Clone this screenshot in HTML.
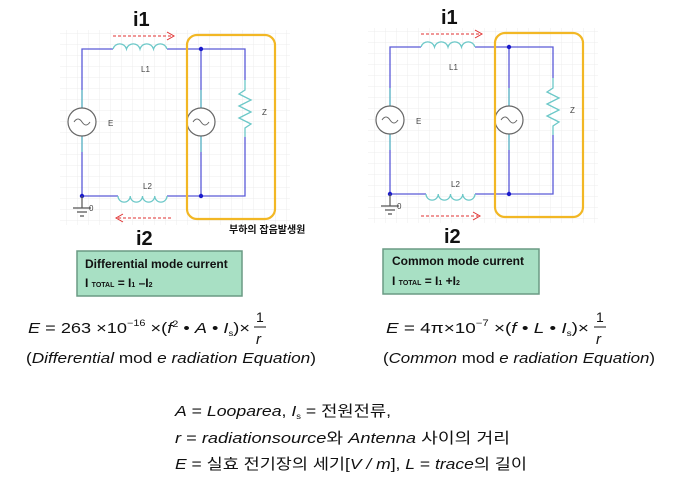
<!DOCTYPE html>
<html><head><meta charset="utf-8"><style>
html,body{margin:0;padding:0;background:#fff;}
svg{display:block;}
text{font-family:"Liberation Sans","Noto Sans CJK KR",sans-serif;}
</style></head><body>
<svg width="678" height="481" viewBox="0 0 678 481" xmlns="http://www.w3.org/2000/svg">
<defs>
<pattern id="g" width="11" height="11" patternUnits="userSpaceOnUse"><path d="M11 0H0V11" fill="none" stroke="#ececec" stroke-width="1"/></pattern>
<g id="circ">
<rect x="60" y="30" width="230" height="195" fill="url(#g)"/>
<g fill="none" stroke="#5a5ad8" stroke-width="1.3">
<path d="M82 108V49H113M167 49H245V80M245 137V196H167M118 196H82V108"/>
<path d="M201 49V108M201 136V196"/>
</g>
<g fill="none" stroke="#6cc8c8" stroke-width="1.3">
<path d="M82 90V108M82 136V152"/>
<path d="M201 90V108M201 136V152"/>
<path d="M113 49a7 7 0 0 1 13.5 0a7 7 0 0 1 13.5 0a7 7 0 0 1 13.5 0a7 7 0 0 1 13.5 0"/>
<path d="M118 196a6 6 0 0 0 12.25 0a6 6 0 0 0 12.25 0a6 6 0 0 0 12.25 0a6 6 0 0 0 12.25 0"/>
<path d="M245 80V90L239 94L251 100L239 106L251 112L239 118L251 124L245 128V137"/>
</g>
<g fill="#fff" stroke="#666" stroke-width="1.2"><circle cx="82" cy="122" r="14"/><circle cx="201" cy="122" r="14"/></g>
<g fill="none" stroke="#666" stroke-width="1"><path d="M74 122q4 -6 8 0t8 0M193 122q4 -6 8 0t8 0"/></g>
<g fill="#1a1acc"><circle cx="201" cy="49" r="2.2"/><circle cx="201" cy="196" r="2.2"/><circle cx="82" cy="196" r="2.2"/></g>
<g stroke="#555" stroke-width="1.2"><path d="M82 196V208M73 208H91M77 212H87M80 216H84"/></g>
<g font-size="8" fill="#444"><text x="141" y="72">L1</text><text x="143" y="189">L2</text><text x="108" y="126">E</text><text x="262" y="115">Z</text><text x="89" y="211">0</text></g>
<rect x="187" y="35" width="88" height="184" rx="10" fill="none" stroke="#f2b724" stroke-width="2.2"/>
<text x="133" y="26" font-size="20" font-weight="bold" fill="#111">i1</text>
<text x="136" y="245" font-size="20" font-weight="bold" fill="#111">i2</text>
<path d="M113 36H172" stroke="#e03030" stroke-width="1" stroke-dasharray="3,2"/>
<path d="M167 32L174 36L167 40" stroke="#e03030" fill="none" stroke-width="1"/>
</g>
</defs>
<use href="#circ"/>
<path d="M118 218H172" stroke="#e03030" stroke-width="1" stroke-dasharray="3,2"/>
<path d="M123 214L116 218L123 222" stroke="#e03030" fill="none" stroke-width="1"/>
<text x="229" y="233" font-size="10" font-weight="bold" fill="#111">부하의 잡음발생원</text>
<rect x="77" y="251" width="165" height="45" fill="#a8e0c4" stroke="#6a9a84" stroke-width="1.5"/>
<text x="85" y="268" font-size="12" font-weight="bold" fill="#111">Differential mode current</text>
<text x="85" y="287" font-size="12" font-weight="bold" fill="#111">I <tspan font-size="7">TOTAL</tspan> = I<tspan font-size="7">1</tspan> –I<tspan font-size="7">2</tspan></text>

<g transform="translate(308,-2)"><use href="#circ"/>
<path d="M113 218H170" stroke="#e03030" stroke-width="1" stroke-dasharray="3,2"/>
<path d="M165 214L172 218L165 222" stroke="#e03030" fill="none" stroke-width="1"/>
</g>
<rect x="383" y="249" width="156" height="45" fill="#a8e0c4" stroke="#6a9a84" stroke-width="1.5"/>
<text x="392" y="265" font-size="12" font-weight="bold" fill="#111">Common mode current</text>
<text x="392" y="285" font-size="12" font-weight="bold" fill="#111">I <tspan font-size="7">TOTAL</tspan> = I<tspan font-size="7">1</tspan> +I<tspan font-size="7">2</tspan></text>

<g font-size="15" fill="#111">
<text x="28" y="333" textLength="222" lengthAdjust="spacingAndGlyphs"><tspan font-style="italic">E</tspan> = 263 ×10<tspan dy="-7" font-size="9">−16</tspan><tspan dy="7"> ×(</tspan><tspan font-style="italic">f</tspan><tspan dy="-6" font-size="9">2</tspan><tspan dy="6"> • </tspan><tspan font-style="italic">A</tspan> • <tspan font-style="italic">I</tspan><tspan dy="3" font-size="8">s</tspan><tspan dy="-3">)×</tspan></text>
<text x="256" y="322" font-size="14">1</text><path d="M254 327H266" stroke="#111"/><text x="256" y="344" font-style="italic">r</text>
<text x="26" y="363" textLength="290" lengthAdjust="spacingAndGlyphs">(<tspan font-style="italic">Differential</tspan> mod <tspan font-style="italic">e radiation Equation</tspan>)</text>
<text x="386" y="333" textLength="203" lengthAdjust="spacingAndGlyphs"><tspan font-style="italic">E</tspan> = 4π×10<tspan dy="-7" font-size="9">−7</tspan><tspan dy="7"> ×(</tspan><tspan font-style="italic">f</tspan> • <tspan font-style="italic">L</tspan> • <tspan font-style="italic">I</tspan><tspan dy="3" font-size="8">s</tspan><tspan dy="-3">)×</tspan></text>
<text x="596" y="322" font-size="14">1</text><path d="M594 327H606" stroke="#111"/><text x="596" y="344" font-style="italic">r</text>
<text x="383" y="363" textLength="272" lengthAdjust="spacingAndGlyphs">(<tspan font-style="italic">Common</tspan> mod <tspan font-style="italic">e radiation Equation</tspan>)</text>
<text x="175" y="416" textLength="216" lengthAdjust="spacingAndGlyphs"><tspan font-style="italic">A</tspan> = <tspan font-style="italic">Looparea</tspan>, <tspan font-style="italic">I</tspan><tspan dy="3" font-size="8">s</tspan><tspan dy="-3"> = 전원전류,</tspan></text>
<text x="175" y="443" textLength="335" lengthAdjust="spacingAndGlyphs"><tspan font-style="italic">r</tspan> = <tspan font-style="italic">radiationsource</tspan>와 <tspan font-style="italic">Antenna</tspan> 사이의  거리</text>
<text x="175" y="469" textLength="352" lengthAdjust="spacingAndGlyphs"><tspan font-style="italic">E</tspan> = 실효 전기장의 세기[<tspan font-style="italic">V / m</tspan>],  <tspan font-style="italic">L</tspan> = <tspan font-style="italic">trace</tspan>의 길이</text>
</g>
</svg>
</body></html>
